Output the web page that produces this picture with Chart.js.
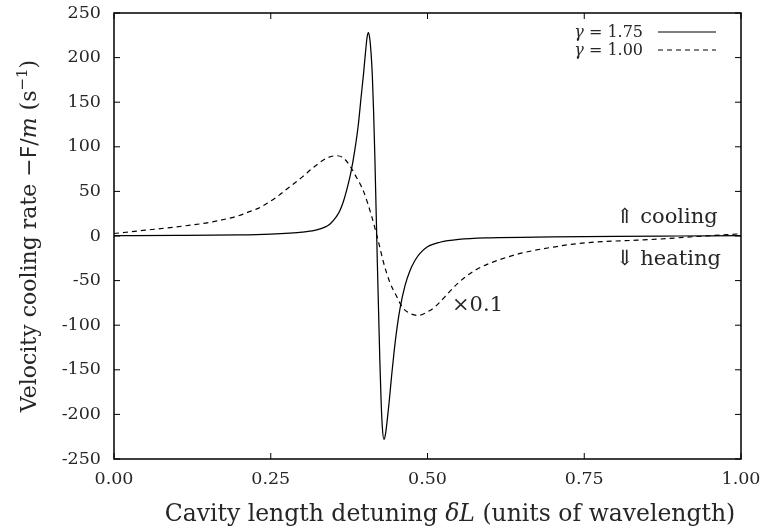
<!DOCTYPE html>
<html>
<head>
<meta charset="utf-8">
<script src="https://cdn.jsdelivr.net/npm/chart.js@4"></script>
<style>
  html, body { margin: 0; padding: 0; background: #fff; }
  #wrap { width: 764px; height: 529px; }
</style>
</head>
<body>
<div id="wrap"><canvas id="cooling-chart"></canvas></div>
<script>
// gamma = 1.75 (solid)
const solidDetuning = [0.00, 0.10, 0.20, 0.25, 0.28, 0.30, 0.32, 0.33, 0.34, 0.345, 0.35, 0.355, 0.36, 0.366, 0.372, 0.378, 0.384, 0.3897, 0.394, 0.398, 0.401, 0.4035, 0.4056, 0.4078, 0.410, 0.412, 0.414, 0.416, 0.418, 0.419, 0.420, 0.422, 0.424, 0.426, 0.428, 0.4305, 0.433, 0.436, 0.439, 0.443, 0.447, 0.451, 0.456, 0.464, 0.472, 0.480, 0.488, 0.50, 0.52, 0.55, 0.60, 0.70, 0.80, 0.90, 1.00];
const solidRate = [0.3, 0.6, 1.3, 2.2, 3.2, 4.3, 6.3, 8.3, 11.2, 13.8, 17.5, 22, 28, 39, 54, 72, 96, 125, 155, 182, 205, 222, 228, 222, 205, 180, 140, 90, 30, 0, -30, -85, -140, -185, -215, -228, -222, -205, -185, -155, -128, -105, -82, -56, -39, -27.5, -19.5, -12, -7, -3.8, -2, -1, -0.4, 0, 0.4];

// gamma = 1.00 (dashed, x0.1)
const dashedDetuning = [0.00, 0.05, 0.10, 0.15, 0.20, 0.215, 0.23, 0.245, 0.26, 0.28, 0.30, 0.32, 0.34, 0.355, 0.365, 0.375, 0.385, 0.398, 0.411, 0.422, 0.43, 0.44, 0.451, 0.46, 0.47, 0.485, 0.50, 0.51, 0.52, 0.533, 0.547, 0.562, 0.578, 0.596, 0.616, 0.64, 0.669, 0.70, 0.738, 0.78, 0.834, 0.88, 0.913, 0.95, 1.00];
const dashedRate = [2.8, 6.5, 10.3, 15, 23, 27, 31, 37, 44, 55, 66, 78, 87.5, 90, 88, 80, 68, 50, 22, -7, -30, -52, -68, -80, -86, -89, -85, -80.5, -74, -64, -54, -45, -37.6, -31.5, -26.3, -21, -16.3, -12.5, -8.6, -6.3, -4.7, -3, -1.3, 0.3, 2.5];

const xTicks = [0, 0.25, 0.5, 0.75, 1];
const yTicks = [-250, -200, -150, -100, -50, 0, 50, 100, 150, 200, 250];
const seriesLabels = ['1.75', '1.00'];

const SERIF = '"DejaVu Serif", serif';
const INK = '#262626';

function toPoints(xs, ys) {
  return xs.map((v, i) => ({ x: v, y: ys[i] }));
}

// draws a row of text pieces with their own fonts
function drawRuns(ctx, runs, x, y, align) {
  let total = 0;
  runs.forEach(r => {
    ctx.font = r.font;
    r.w = ctx.measureText(r.text).width;
    total += r.w;
  });
  let cx = align === 'right' ? x - total : align === 'center' ? x - total / 2 : x;
  runs.forEach(r => {
    ctx.font = r.font;
    ctx.fillText(r.text, cx, y + (r.dy || 0));
    cx += r.w;
  });
}

const decorations = {
  id: 'decorations',
  afterDraw(chart) {
    const { ctx, chartArea: a, scales: { x, y } } = chart;
    ctx.save();

    // frame and inward ticks
    ctx.strokeStyle = '#000';
    ctx.lineWidth = 1.5;
    ctx.strokeRect(a.left, a.top, a.right - a.left, a.bottom - a.top);
    ctx.lineWidth = 1;
    ctx.beginPath();
    xTicks.forEach(v => {
      const px = x.getPixelForValue(v);
      ctx.moveTo(px, a.bottom); ctx.lineTo(px, a.bottom - 6);
      ctx.moveTo(px, a.top); ctx.lineTo(px, a.top + 6);
    });
    yTicks.forEach(v => {
      const py = y.getPixelForValue(v);
      ctx.moveTo(a.left, py); ctx.lineTo(a.left + 6, py);
      ctx.moveTo(a.right, py); ctx.lineTo(a.right - 6, py);
    });
    ctx.stroke();

    ctx.fillStyle = INK;
    ctx.textAlign = 'left';
    ctx.textBaseline = 'alphabetic';

    // axis titles
    drawRuns(ctx, [
      { text: 'Cavity length detuning ', font: '23.5px ' + SERIF },
      { text: 'δL', font: 'italic 23.5px ' + SERIF },
      { text: ' (units of wavelength)', font: '23.5px ' + SERIF }
    ], 450, 521, 'center');

    ctx.save();
    ctx.translate(36, (a.top + a.bottom) / 2);
    ctx.rotate(-Math.PI / 2);
    drawRuns(ctx, [
      { text: 'Velocity cooling rate −', font: '22px ' + SERIF },
      { text: 'F', font: '22px "DejaVu Sans", sans-serif' },
      { text: '/', font: '22px ' + SERIF },
      { text: 'm', font: 'italic 22px ' + SERIF },
      { text: ' (s', font: '22px ' + SERIF },
      { text: '−1', font: '15px ' + SERIF, dy: -9 },
      { text: ')', font: '22px ' + SERIF }
    ], 0, 0, 'center');
    ctx.restore();

    // annotations
    drawRuns(ctx, [{ text: '⇑ cooling', font: '21px ' + SERIF }], 616, 223, 'left');
    drawRuns(ctx, [{ text: '⇓ heating', font: '21px ' + SERIF }], 616, 265, 'left');
    drawRuns(ctx, [{ text: '×0.1', font: '21px ' + SERIF }], 452, 311, 'left');

    // legend
    const rows = [{ base: 37, dash: [] }, { base: 55, dash: [5, 4] }];
    rows.forEach((r, i) => {
      drawRuns(ctx, [
        { text: 'γ', font: 'italic 16px ' + SERIF },
        { text: ' = ' + seriesLabels[i], font: '16px ' + SERIF }
      ], 643, r.base, 'right');
      ctx.strokeStyle = '#000';
      ctx.lineWidth = 1.2;
      ctx.setLineDash(r.dash);
      ctx.beginPath();
      ctx.moveTo(658, r.base - 5);
      ctx.lineTo(716, r.base - 5);
      ctx.stroke();
      ctx.setLineDash([]);
    });

    ctx.restore();
  }
};

new Chart(document.getElementById('cooling-chart'), {
  type: 'scatter',
  data: {
    datasets: [
      {
        label: 'γ = 1.75',
        data: toPoints(solidDetuning, solidRate),
        showLine: true,
        borderColor: '#000',
        borderWidth: 1.25,
        pointRadius: 0,
        cubicInterpolationMode: 'monotone',
        fill: false
      },
      {
        label: 'γ = 1.00',
        data: toPoints(dashedDetuning, dashedRate),
        showLine: true,
        borderColor: '#000',
        borderWidth: 1.2,
        borderDash: [5, 4],
        pointRadius: 0,
        cubicInterpolationMode: 'monotone',
        fill: false
      }
    ]
  },
  options: {
    responsive: true,
    maintainAspectRatio: false,
    animation: false,
    layout: { padding: { top: 13, right: 23, left: 0, bottom: 0 } },
    scales: {
      x: {
        type: 'linear',
        min: 0,
        max: 1,
        afterBuildTicks: scale => { scale.ticks = xTicks.map(v => ({ value: v })); },
        afterFit: scale => {
          scale.height = 70;
          scale.paddingLeft = 0;
          scale.paddingRight = 0;
        },
        ticks: {
          callback: v => v.toFixed(2),
          font: { family: SERIF, size: 17.5 },
          color: INK,
          padding: 10,
          maxRotation: 0
        },
        grid: { display: false, drawTicks: false },
        border: { display: false }
      },
      y: {
        min: -250,
        max: 250,
        afterBuildTicks: scale => { scale.ticks = yTicks.map(v => ({ value: v })); },
        afterFit: scale => {
          scale.width = 114;
          scale.paddingTop = 0;
          scale.paddingBottom = 0;
        },
        ticks: {
          callback: v => String(v),
          font: { family: SERIF, size: 17.5 },
          color: INK,
          padding: 13
        },
        grid: { display: false, drawTicks: false },
        border: { display: false }
      }
    },
    plugins: {
      legend: { display: false },
      tooltip: { enabled: false }
    }
  },
  plugins: [decorations]
});
</script>
</body>
</html>
